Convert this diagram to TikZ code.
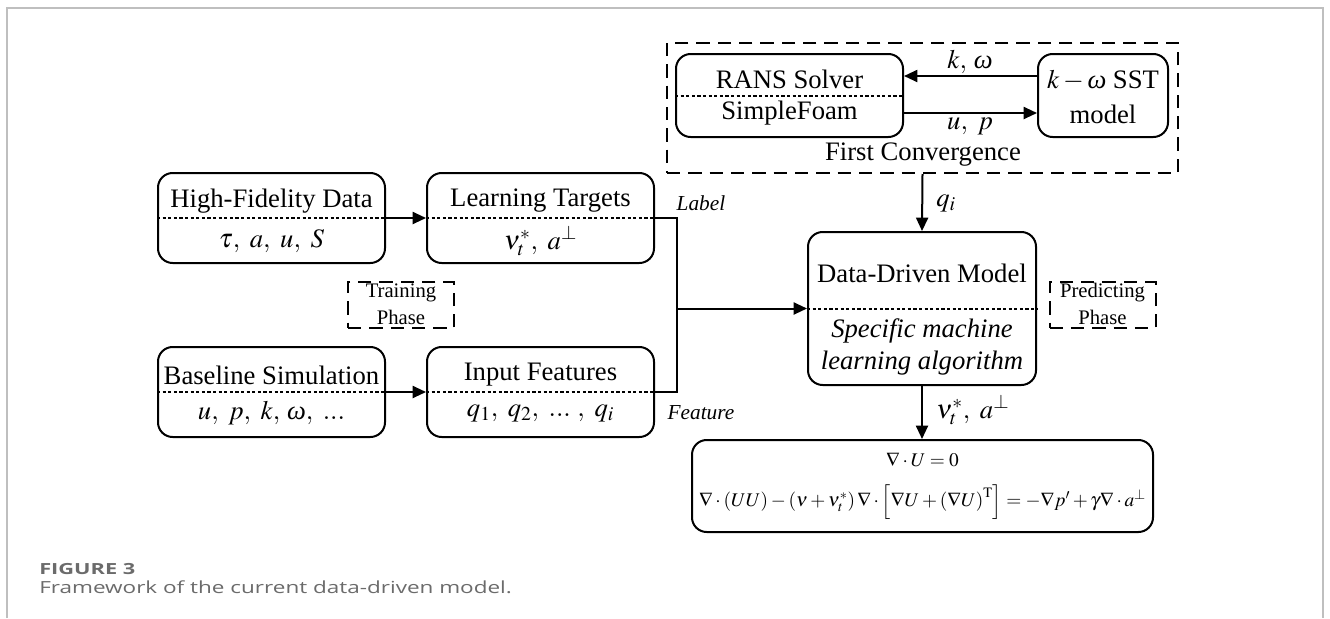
\documentclass[tikz,border=0pt]{standalone}
\usepackage{mathptmx}
\usepackage[no-math]{fontspec}
\setmainfont{Liberation Serif}
\newfontfamily\capfont{Open Sans}
\usetikzlibrary{arrows.meta}
\newcommand{\om}{\textit{ω}}
\tikzset{
  box/.style={draw, line width=1.5pt, rounded corners=11pt, inner sep=0pt},
  sepline/.style={line width=1.5pt, dash pattern=on 2.4pt off 1.8pt},
  arr/.style={line width=1.5pt, -{Triangle[length=10pt,width=9pt]}},
  wire/.style={line width=1.5pt},
  txt/.style={inner sep=0pt, font=\fontsize{20}{23}\selectfont},
  lbl/.style={inner sep=0pt, font=\fontsize{16}{18}\selectfont\itshape},
  phase/.style={draw, line width=1.5pt, dash pattern=on 10pt off 6pt, inner sep=0pt,
     minimum width=79.5pt, minimum height=34.5pt},
  ptxt/.style={inner sep=0pt, font=\fontsize{15.5}{17}\selectfont},
  frame/.style={draw=black!25, line width=1.1pt},
}
\begin{document}
\begin{tikzpicture}[x=0.75pt, y=-0.75pt]
\useasboundingbox (0,0) rectangle (1330,618);
\fill[white] (0,0) rectangle (1330,618);
\draw[frame] (7,618) -- (7,8) -- (1323,8) -- (1323,618);

% First convergence dashed group
\node[draw, line width=1.5pt, dash pattern=on 10pt off 6pt, inner sep=0pt,
      minimum width=383.25pt, minimum height=97.5pt] (conv) at (922.5,108) {};
\node[box, minimum width=170.25pt, minimum height=62.25pt] (rans) at (789.5,95.5) {};
\node[box, minimum width=97.5pt, minimum height=62.25pt] (sst) at (1103,95.5) {};
\draw[sepline] (rans.west |- 0,95.5) -- (rans.east |- 0,95.5);
\node[txt] (ransT) at (789.5,79) {RANS Solver};
\node[txt] (ransB) at (789.5,113) {SimpleFoam};
\node[txt] (sstT) at (1103,80) {$k-{}$\om{} SST};
\node[txt] (sstB) at (1103,114) {model};
\draw[arr] (sst.west |- 0,76) -- (rans.east |- 0,76);
\draw[arr] (rans.east |- 0,113) -- (sst.west |- 0,113);
\node[txt] (kw) at (970,62) {$k,\ $\om};
\node[txt] (up) at (970,126) {$u,\ p$};
\node[txt] (convT) at (923,155) {First Convergence};

% left boxes
\node[box, minimum width=170.25pt, minimum height=67.5pt] (hfd) at (271.5,218) {};
\node[box, minimum width=170.25pt, minimum height=67.5pt] (lt) at (540.5,218) {};
\node[box, minimum width=170.25pt, minimum height=67.5pt] (base) at (271.5,392) {};
\node[box, minimum width=170.25pt, minimum height=67.5pt] (inp) at (540.5,392) {};
\foreach \b in {hfd,lt,base,inp}{\draw[sepline] (\b.west) -- (\b.east);}
\node[txt] (hfdT) at (271.5,201) {High-Fidelity Data};
\node[txt] (hfdB) at (271.5,241) {$\tau,\ a,\ u,\ S$};
\node[txt] (ltT) at (540.5,201) {Learning Targets};
\node[txt] (ltB) at (540.5,241) {$\nu_t^{*},\ a^{\perp}$};
\node[txt] (baseT) at (271.5,375) {Baseline Simulation};
\node[txt] (baseB) at (271.5,413) {$u,\ p,\ k,\ $\om$,\ ...$};
\node[txt] (inpT) at (540.5,375) {Input Features};
\node[txt] (inpB) at (540.5,413) {$q_1,\ q_2,\ ...\ ,\ q_i$};
\draw[arr] (hfd.east) -- (lt.west);
\draw[arr] (base.east) -- (inp.west);

\node[phase] (train) at (401,305) {};
\node[ptxt] (trainT) at (401,293) {Training};
\node[ptxt] (trainB) at (401,317) {Phase};

% data-driven model
\node[box, minimum width=171pt, minimum height=114.75pt] (ddm) at (922,308.5) {};
\draw[sepline] (ddm.west) -- (ddm.east);
\node[txt] (ddmT) at (922,273) {Data-Driven Model};
\node[txt, font=\fontsize{20}{23}\selectfont\itshape] (ddmB1) at (922,331) {Specific machine};
\node[txt, font=\fontsize{20}{23}\selectfont\itshape] (ddmB2) at (922,363) {learning algorithm};

\node[phase] (pred) at (1102.5,305) {};
\node[ptxt] (predT) at (1102.5,293) {Predicting};
\node[ptxt] (predB) at (1102.5,317) {Phase};

% connectors
\coordinate (jn) at (677,308.5);
\draw[wire] (lt.east) -- (lt.east -| jn) -- (inp.east -| jn) -- (inp.east);
\draw[arr] (jn) -- (ddm.west);
\node[lbl] (labelL) at (701,203) {Label};
\node[lbl] (featL) at (701,413) {Feature};

\draw[arr] (conv.south) -- (ddm.north);
\node[txt, anchor=west] (qi) at (936,203) {$q_i$};

% equation box
\node[box, minimum width=345.75pt, minimum height=69pt] (eq) at (922.5,486) {};
\draw[arr] (ddm.south) -- (ddm.south |- eq.north);
\node[txt, anchor=west] (nuL) at (936,410) {$\nu_t^{*},\ a^{\perp}$};
\node[inner sep=0pt, font=\fontsize{14.5}{16}\selectfont] (eq1) at (922.5,460) {$\nabla\cdot U=0$};
\node[inner sep=0pt, font=\fontsize{14.5}{16}\selectfont] (eq2) at (922.5,502)
  {$\nabla\cdot\left(UU\right)-\left(\nu+\nu_t^{*}\right)\nabla\cdot\left[\nabla U+\left(\nabla U\right)^{\mathrm{T}}\right]=-\nabla p'+\gamma\nabla\cdot a^{\perp}$};

% caption
\node[inner sep=0pt, anchor=west, text=black!58, font=\capfont\bfseries\fontsize{11.5}{13}\selectfont] (figno) at (39,569) {\scalebox{1.42}[1]{FIGURE 3}};
\node[inner sep=0pt, anchor=west, text=black!58, font=\capfont\fontsize{12.5}{14}\selectfont] (cap) at (39,587) {\scalebox{1.35}[1]{Framework of the current data-driven model.}};
\end{tikzpicture}
\end{document}
